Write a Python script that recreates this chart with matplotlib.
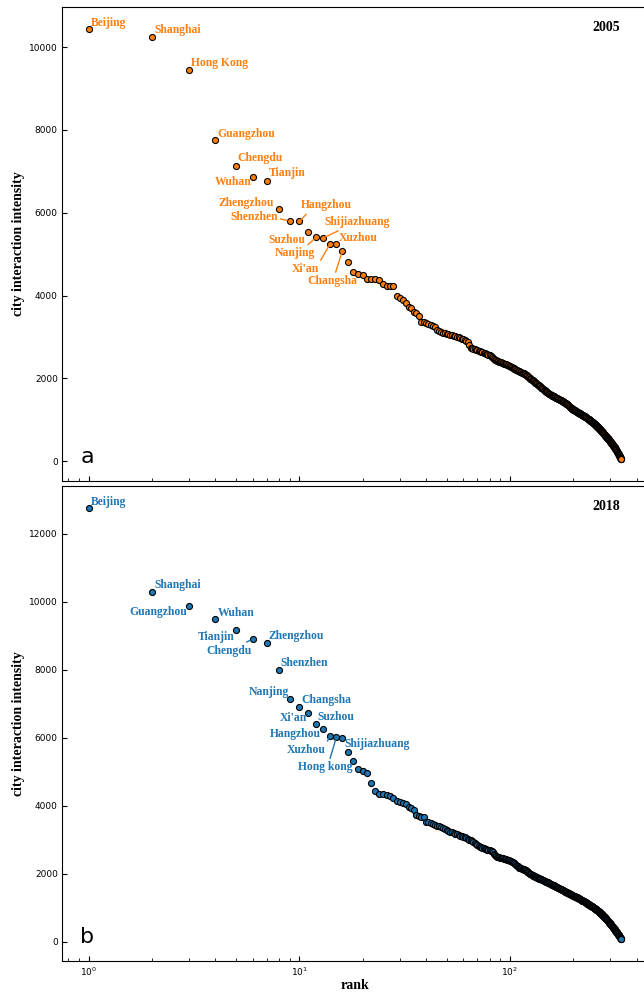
import numpy as np
import matplotlib
matplotlib.use("Agg")
import matplotlib.pyplot as plt

# ---------------- data ----------------
intensity_2005 = [
    10451, 10241, 9439, 7752, 7142, 6867, 6764, 6089, 5800, 5790, 5535, 5405, 5390, 5246, 5240, 5077,
    4805, 4564, 4530, 4492, 4402, 4398, 4390, 4371, 4289, 4241, 4234, 4230,
    3993, 3937, 3896, 3831, 3735, 3695, 3614, 3576, 3494, 3373,
    3350, 3335, 3320, 3300, 3270, 3230,
    3160, 3140, 3120, 3100, 3085, 3070,
    3060, 3050, 3040, 3030, 3015, 3000, 2990, 2975, 2960, 2945,
    2925, 2905, 2880,
    2800, 2740, 2725, 2710, 2700, 2690, 2680, 2668, 2655, 2645, 2632, 2620, 2610, 2598, 2585, 2572, 2560,
    2540, 2515, 2490, 2465, 2445, 2435, 2425, 2415, 2405, 2395, 2385, 2375, 2365, 2355, 2345, 2335, 2325, 2318,
    2305, 2290, 2275, 2262, 2250, 2238, 2228, 2218, 2208, 2196, 2185, 2175, 2166, 2157, 2148, 2140, 2132, 2124, 2116,
    2100, 2085, 2070, 2055, 2040, 2025, 2010, 1995, 1980, 1966, 1952, 1938, 1924, 1910, 1896, 1884, 1872, 1860, 1848,
    1834, 1820, 1806, 1792, 1778, 1764, 1750, 1737, 1724, 1711, 1698, 1685, 1672, 1659, 1646,
    1638, 1630, 1622, 1614, 1606, 1598, 1590, 1582, 1574, 1566, 1558, 1550, 1543, 1536, 1529, 1522, 1515, 1508,
    1501, 1494, 1487, 1480, 1473, 1466, 1459, 1452, 1445, 1438, 1431, 1424, 1416, 1408, 1400, 1390, 1380, 1368, 1355,
    1345, 1335, 1325, 1315, 1305, 1295, 1285, 1276, 1268, 1260, 1252, 1245, 1238, 1231, 1224, 1217, 1210, 1203,
    1196, 1190, 1184, 1178, 1172, 1166, 1160, 1154, 1148, 1142, 1136, 1130, 1124, 1118, 1112, 1106, 1100, 1094,
    1088, 1082, 1076, 1070, 1064,
    1057, 1050, 1043, 1036, 1029, 1022, 1015, 1008, 1000, 993, 985, 978, 970, 963, 955, 948, 940, 933, 925, 918,
    910, 903, 895, 888, 880, 873, 865, 858, 850, 843, 835, 828,
    820, 811, 802, 793, 784, 775, 766, 757, 748, 739, 730, 720, 711, 702, 693, 683, 674, 665, 655, 646, 636, 627,
    617, 608, 598, 589, 579, 570, 560,
    551, 542, 533, 524, 514, 505, 496, 487, 477, 468, 458, 449, 439, 430, 420, 410, 400, 391, 381, 371, 361, 351, 341,
    330, 319, 308, 297, 286, 275, 263, 252, 240, 228, 216, 204, 192, 180, 167, 154, 141, 128, 115, 101, 87, 73,
    61, 50, 40,
]

intensity_2018 = [
    12774, 10303, 9873, 9500, 9186, 8912, 8803, 8009, 7147, 6902, 6726, 6412, 6255, 6059, 6020, 6009,
    5579, 5333, 5079, 5020, 4980, 4667, 4441, 4344, 4340, 4335, 4294, 4226, 4156, 4126, 4097, 4050, 3979, 3930,
    3882, 3735, 3700, 3685, 3667, 3538, 3515, 3491, 3465, 3441, 3420, 3395, 3370, 3344, 3320, 3295, 3270, 3244,
    3225, 3205, 3185, 3170, 3150, 3130, 3110, 3090, 3075,
    3055, 3035, 3010, 2985, 2960, 2930, 2900, 2870, 2840, 2815, 2795, 2780, 2765, 2750, 2738, 2726, 2714, 2702,
    2690, 2678, 2666, 2650, 2600, 2555, 2520, 2505, 2495, 2487, 2479, 2471, 2463, 2455, 2447, 2439, 2431, 2423,
    2415, 2405, 2392, 2378, 2362, 2345, 2328, 2310, 2290, 2268, 2245, 2222, 2200, 2185, 2172, 2160, 2150, 2140,
    2131, 2123, 2115, 2106, 2090, 2070, 2050, 2030, 2012, 1998, 1985, 1973, 1962, 1951, 1940, 1930, 1920, 1910,
    1900, 1891, 1882, 1873, 1864, 1855, 1846, 1838, 1830, 1822, 1813, 1804, 1795, 1786, 1777, 1768, 1759, 1750,
    1741, 1732, 1723, 1714, 1705, 1696, 1687, 1678, 1669, 1660, 1651, 1642, 1634, 1626, 1618, 1610, 1602, 1594,
    1586, 1578, 1570, 1562, 1554, 1546, 1538, 1530, 1522, 1514, 1506, 1498, 1490, 1482, 1474, 1466, 1458, 1450,
    1442, 1434, 1426, 1418, 1410, 1402,
    1395, 1389, 1383, 1377, 1371, 1365, 1359, 1353, 1347, 1341, 1335, 1329, 1322, 1315, 1308, 1301, 1294, 1287,
    1280, 1273, 1266, 1259, 1252, 1245, 1238, 1231, 1224, 1217, 1210, 1203, 1196, 1189, 1182, 1175, 1168,
    1160, 1152, 1144, 1136, 1128, 1120, 1113, 1106, 1099, 1092, 1085, 1078, 1071, 1064, 1057, 1050, 1043, 1036,
    1029, 1022, 1015, 1007, 999, 991, 983, 975, 967, 959, 951, 943, 935, 927, 919, 911, 903, 895, 887,
    878, 869, 860, 851, 842, 833, 823, 813, 803, 793, 783, 773, 763, 753, 743, 733, 723, 713, 702, 691, 680, 669,
    658, 647, 636, 625, 614, 603, 592, 581, 570, 559, 548, 537, 526, 515, 504, 493, 482, 471, 460, 449, 438, 427,
    416, 405, 393, 381, 369, 357, 345, 333, 321, 309,
    297, 285, 273, 261, 249, 237, 225, 213, 201, 189, 177, 165, 152, 139, 126, 113, 100, 87, 74,
]

cities_2005 = ["Beijing", "Shanghai", "Hong Kong", "Guangzhou", "Chengdu", "Wuhan", "Tianjin",
               "Zhengzhou", "Shenzhen", "Hangzhou", "Suzhou", "Nanjing", "Shijiazhuang",
               "Xi'an", "Xuzhou", "Changsha"]
cities_2018 = ["Beijing", "Shanghai", "Guangzhou", "Wuhan", "Tianjin", "Chengdu", "Zhengzhou",
               "Shenzhen", "Nanjing", "Changsha", "Xi'an", "Suzhou", "Hangzhou", "Xuzhou",
               "Hong kong", "Shijiazhuang"]

# label layout: (dx px, dy px, ha, connector anchor on the text bbox or None)
layout_2005 = [
    (2, 3, "left", None), (2, 4, "left", None), (2, 4, "left", None), (2, 3, "left", None),
    (1, 5, "left", None), (-1, -8, "right", None), (2, 5, "left", None),
    (-5, 3, "right", None), (-12, 1, "right", (1, 0.4)), (2, 13, "left", (0.15, 0)),
    (-3, -11, "right", (1, 0.9)), (-1, -19, "right", (0.75, 1)), (1, 13, "left", (0.3, 0)),
    (-11, -28, "right", (1, 1)), (2, 3, "left", None), (-10, -33, "center", (0.55, 1)),
]
layout_2018 = [
    (2, 3, "left", None), (2, 4, "left", None), (-2, -9, "right", None), (2, 3, "left", None),
    (-1, -10, "right", None), (-1, -15, "right", (0.78, 1)), (2, 4, "left", None),
    (2, 4, "left", None), (-1, 4, "right", None), (2, 4, "left", None),
    (-1, -8, "right", None), (1, 4, "left", None), (-2, -8, "right", None),
    (-4, -17, "right", (1, 1)), (-11, -33, "center", (0.57, 1)), (2, -9, "left", None),
]

ORANGE = "#ff7f0e"
BLUE = "#1f77b4"
SERIF = ["Liberation Serif", "DejaVu Serif"]

W, H = 644, 994
fig = plt.figure(figsize=(W / 100, H / 100), dpi=100)
left = 62 / W
width = (648 - 62) / W
ax1 = fig.add_axes([left, 1 - 481 / H, width, (481 - 7) / H])
ax2 = fig.add_axes([left, 1 - 961 / H, width, (961 - 486) / H], sharex=ax1)


def draw(ax, values, cities, layout, color, year, letter):
    ranks = np.arange(1, len(values) + 1)
    ax.scatter(ranks, values, s=19, c=color, edgecolors="black", linewidths=0.8, zorder=3)
    ax.set_xscale("log")
    for i, (name, (dx, dy, ha, rel)) in enumerate(zip(cities, layout)):
        kw = {}
        if rel is not None:
            kw["arrowprops"] = dict(arrowstyle="-", color=color, lw=1, shrinkA=0, shrinkB=2,
                                    relpos=rel)
        ax.annotate(name, xy=(ranks[i], values[i]), xytext=(dx, dy),
                    textcoords="offset pixels", ha=ha, va="baseline",
                    color=color, fontsize=8.4, fontweight="bold", family=SERIF, zorder=4, **kw)
    ax.text(0.952, 0.949, year, transform=ax.transAxes, ha="right", va="baseline",
            fontsize=10, fontweight="bold", family=SERIF)
    ax.text(0.031, 0.038, letter, transform=ax.transAxes, ha="left", va="baseline",
            fontsize=16)
    ax.set_ylabel("city interaction intensity", fontsize=10, fontweight="bold", family=SERIF,
                  labelpad=3)
    ax.tick_params(axis="both", which="both", direction="in", labelsize=6.5, pad=3)
    ax.tick_params(axis="both", which="major", length=3.5)
    ax.tick_params(axis="both", which="minor", length=2)


draw(ax1, intensity_2005, cities_2005, layout_2005, ORANGE, "2005", "a")
draw(ax2, intensity_2018, cities_2018, layout_2018, BLUE, "2018", "b")
ax1.tick_params(axis="x", which="both", labelbottom=False)
ax2.set_xlabel("rank", fontsize=10, fontweight="bold", family=SERIF, labelpad=1)

fig.savefig("out.png", dpi=100)
